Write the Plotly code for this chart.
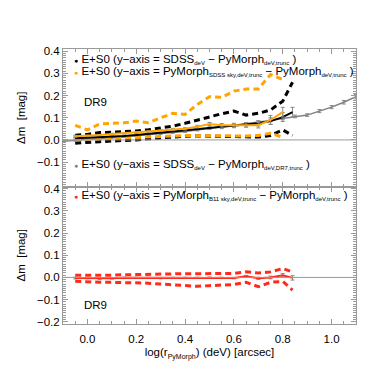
import plotly.graph_objects as go
from plotly.subplots import make_subplots

# x bins, log(r_PyMorph)
x_bins = [-0.05, 0.0, 0.05, 0.1, 0.15, 0.2, 0.25, 0.3, 0.35, 0.4, 0.45,
          0.5, 0.55, 0.6, 0.65, 0.7, 0.75, 0.8, 0.84]

# top panel: SDSS_deV - PyMorph_deV,trunc (black)
black_med = [0.008, 0.010, 0.012, 0.015, 0.018, 0.022, 0.027, 0.033, 0.038, 0.042,
             0.047, 0.053, 0.058, 0.063, 0.068, 0.075, 0.085, 0.103, 0.125]
black_err = [0.004, 0.003, 0.003, 0.003, 0.003, 0.003, 0.004, 0.004, 0.004, 0.005,
             0.005, 0.006, 0.007, 0.008, 0.010, 0.012, 0.015, 0.020, 0.022]
black_hi = [0.021, 0.025, 0.033, 0.035, 0.038, 0.040, 0.046, 0.055, 0.062, 0.075,
            0.090, 0.105, 0.118, 0.130, 0.112, 0.120, 0.135, 0.175, 0.260]
black_lo = [-0.015, -0.010, -0.008, -0.005, -0.003, 0.000, 0.005, 0.010, 0.013, 0.017,
            0.018, 0.017, 0.015, 0.013, 0.012, 0.013, 0.020, 0.045, 0.020]

# top panel: PyMorph_SDSS sky - PyMorph (orange)
x_orange = x_bins[:-1]
orange_med = [0.017, 0.018, 0.022, 0.027, 0.030, 0.033, 0.037, 0.042, 0.047, 0.050,
              0.060, 0.072, 0.066, 0.066, 0.068, 0.066, 0.090, 0.125]
orange_err = [0.004, 0.003, 0.003, 0.003, 0.003, 0.004, 0.004, 0.004, 0.005, 0.005,
              0.006, 0.007, 0.008, 0.009, 0.010, 0.012, 0.020, 0.022]
orange_hi = [0.066, 0.045, 0.072, 0.075, 0.077, 0.085, 0.078, 0.100, 0.120, 0.115,
             0.160, 0.195, 0.192, 0.220, 0.230, 0.230, 0.295, 0.272]
orange_lo = [0.005, 0.003, 0.005, 0.007, 0.008, 0.010, 0.013, 0.017, 0.019, 0.020,
             0.019, 0.018, 0.017, 0.017, 0.018, 0.020, 0.030, 0.012]

# top panel: SDSS_deV - PyMorph_deV,DR7,trunc (grey)
x_grey = [-0.1, -0.05, 0.0, 0.05, 0.1, 0.15, 0.2, 0.25, 0.3, 0.35, 0.4, 0.45, 0.5,
          0.55, 0.6, 0.65, 0.7, 0.75, 0.8, 0.85, 0.9, 0.95, 1.0, 1.05, 1.1]
grey_med = [-0.006, -0.003, 0.003, 0.006, 0.010, 0.014, 0.018, 0.022, 0.028, 0.033,
            0.038, 0.045, 0.052, 0.058, 0.065, 0.072, 0.080, 0.088, 0.097, 0.106,
            0.112, 0.130, 0.148, 0.170, 0.195]
grey_err = [0.002, 0.002, 0.002, 0.002, 0.002, 0.003, 0.003, 0.003, 0.003, 0.003,
            0.004, 0.004, 0.004, 0.004, 0.005, 0.005, 0.005, 0.006, 0.006, 0.006,
            0.006, 0.007, 0.007, 0.008, 0.010]

# bottom panel: PyMorph_B11 sky - PyMorph (red)
red_med = [-0.003, -0.003, -0.006, -0.004, -0.002, -0.002, -0.002, -0.003, -0.002, -0.002,
           -0.002, -0.001, -0.002, -0.003, 0.005, -0.004, 0.000, 0.010, -0.002]
red_err = [0.004, 0.003, 0.004, 0.003, 0.003, 0.003, 0.003, 0.003, 0.003, 0.003,
           0.003, 0.003, 0.003, 0.003, 0.004, 0.005, 0.006, 0.008, 0.010]
red_hi = [0.010, 0.010, 0.008, 0.010, 0.012, 0.012, 0.013, 0.015, 0.016, 0.017,
          0.018, 0.018, 0.018, 0.018, 0.025, 0.020, 0.025, 0.040, 0.025]
red_lo = [-0.017, -0.020, -0.022, -0.022, -0.023, -0.024, -0.026, -0.030, -0.033, -0.037,
          -0.040, -0.037, -0.035, -0.032, -0.022, -0.042, -0.022, -0.018, -0.057]

ORANGE = "#FFA500"
RED = "#FF2A1A"
GREY = "#808080"
FONT = "Liberation Sans"

fig = make_subplots(rows=2, cols=1, shared_xaxes=True, vertical_spacing=0)

def dashed(x, y, color, row):
    fig.add_trace(go.Scatter(x=x, y=y, mode="lines",
                             line=dict(color=color, width=3, dash="6px,4px")),
                  row=row, col=1)

def solid(x, y, err, color, width, row):
    fig.add_trace(go.Scatter(x=x, y=y, mode="lines",
                             line=dict(color=color, width=width),
                             error_y=dict(type="data", array=err, color="#8a8a8a",
                                          thickness=1, width=2)),
                  row=row, col=1)

solid(x_grey, grey_med, grey_err, GREY, 1.5, 1)
dashed(x_bins, black_hi, "black", 1)
dashed(x_bins, black_lo, "black", 1)
dashed(x_orange, orange_hi, ORANGE, 1)
dashed(x_orange, orange_lo, ORANGE, 1)
solid(x_bins, black_med, black_err, "black", 2, 1)
solid(x_orange, orange_med, orange_err, ORANGE, 2, 1)

dashed(x_bins, red_hi, RED, 2)
dashed(x_bins, red_lo, RED, 2)
solid(x_bins, red_med, red_err, RED, 2, 2)

for r in (1, 2):
    fig.add_hline(y=0, line=dict(color="#999999", width=1), row=r, col=1)

axis_style = dict(showline=True, linecolor="#999999", linewidth=1, mirror="ticks",
                  ticks="inside", tickcolor="#999999", ticklen=5, showgrid=False,
                  zeroline=False, tickfont=dict(family=FONT, size=11.5, color="black"))

fig.update_xaxes(range=[-0.1, 1.1], dtick=0.2, tick0=0, tickformat=".1f",
                 minor=dict(dtick=0.05, ticks="inside", ticklen=3, tickcolor="#999999"),
                 **axis_style)
fig.update_xaxes(title=dict(text="log(r<sub><span style='font-size:7px'>PyMorph</span></sub>) (deV) [arcsec]",
                            font=dict(family=FONT, size=11.5, color="black"), standoff=4),
                 ticklabelstandoff=4, row=2, col=1)

fig.update_yaxes(range=[-0.21, 0.41],
                 minor=dict(dtick=0.01, ticks="inside", ticklen=3, tickcolor="#999999"),
                 title=dict(text="\u0394m  [mag]", font=dict(family=FONT, size=11.5, color="black"),
                            standoff=8),
                 **axis_style)
fig.update_yaxes(tickvals=[-0.1, 0.0, 0.1, 0.2, 0.3, 0.4],
                 ticktext=["\u22120.1", "0.0", "0.1", "0.2", "0.3", "0.4"], row=1, col=1)
fig.update_yaxes(tickvals=[-0.2, -0.1, 0.0, 0.1, 0.2, 0.3, 0.4],
                 ticktext=["\u22120.2", "\u22120.1", "0.0", "0.1", "0.2", "0.3", "0.4"],
                 row=2, col=1)

def dot(color):
    return f"<span style='color:{color};font-size:7px'>\u25cf</span> "

def sub(s):
    return f"<sub><span style='font-size:6px'>{s}</span></sub>"

legend = [
    (1, 0.362, dot("black") + "E+S0 (y\u2212axis = SDSS" + sub("deV") + " \u2212 PyMorph" + sub("deV,trunc") + " )"),
    (1, 0.31, dot(ORANGE) + "E+S0 (y\u2212axis = PyMorph" + sub("SDSS sky,deV,trunc") + " \u2212 PyMorph" + sub("deV,trunc") + " )"),
    (1, -0.109, dot(GREY) + "E+S0 (y\u2212axis = SDSS" + sub("deV") + " \u2212 PyMorph" + sub("deV,DR7,trunc") + " )"),
    (2, 0.368, dot(RED) + "E+S0 (y\u2212axis = PyMorph" + sub("B11 sky,deV,trunc") + " \u2212 PyMorph" + sub("deV,trunc") + " )"),
    (1, 0.17, "DR9"),
    (2, -0.125, "DR9"),
]
for row, yv, txt in legend:
    yref = "y" if row == 1 else "y2"
    xv = -0.062 if txt != "DR9" else -0.022
    fig.add_annotation(x=xv, y=yv, xref="x", yref=yref, text=txt, showarrow=False,
                       xanchor="left", yanchor="middle",
                       font=dict(family=FONT, size=11.5, color="black"))

fig.update_layout(width=366, height=366, showlegend=False,
                  margin=dict(l=55, r=18, t=41, b=50),
                  plot_bgcolor="white", paper_bgcolor="white")

fig.write_html("out.html")
